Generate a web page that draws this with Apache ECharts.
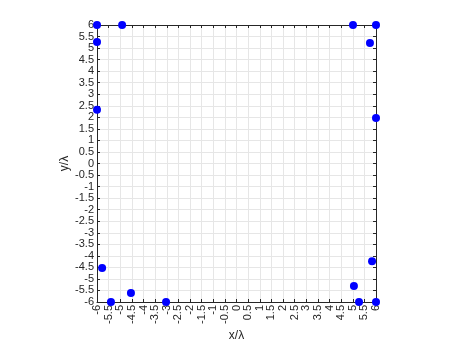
<!DOCTYPE html>
<html>
<head>
<meta charset="utf-8">
<script src="https://cdn.jsdelivr.net/npm/echarts@6/dist/echarts.min.js"></script>
<style>
html, body { margin: 0; padding: 0; background: #fff; }
#chart { width: 458px; height: 343px; }
</style>
</head>
<body>
<div id="chart"></div>
<script>
// element positions in wavelengths
const xPos = [-6, -4.92, -6, -6, -5.78, -5.4, -4.54, -3.03, 5.01, 6, 5.74, 6, 5.83, 5.05, 5.27, 6];
const yPos = [6, 6, 5.26, 2.33, -4.53, -6, -5.61, -6, 6, 6, 5.22, 1.97, -4.23, -5.31, -6, -6];

const axisColor = '#262626';
const gridColor = '#e6e6e6';
const fontFamily = 'Liberation Sans, Arial, sans-serif';

let points = xPos.map(function (x, i) {
    return [x, yPos[i]];
});

function tickLabel(value) {
    return String(value);
}

function mainAxis(name, rotate, gap) {
    return {
        type: 'value',
        min: -6,
        max: 6,
        interval: 0.5,
        name: name,
        nameLocation: 'middle',
        nameGap: gap,
        nameMoveOverlap: false,
        nameTextStyle: { color: axisColor, fontSize: 12, fontFamily: fontFamily },
        axisLine: { show: true, onZero: false, lineStyle: { color: axisColor, width: 1 } },
        axisTick: { show: true, inside: true, length: 3, lineStyle: { color: axisColor } },
        axisLabel: {
            color: axisColor,
            fontSize: 11,
            fontFamily: fontFamily,
            margin: 3,
            rotate: rotate,
            formatter: tickLabel,
            showMinLabel: true,
            showMaxLabel: true,
            hideOverlap: false,
            interval: 0
        },
        splitLine: { show: true, lineStyle: { color: gridColor, width: 1 } }
    };
}

function boxAxis(position) {
    return {
        type: 'value',
        min: -6,
        max: 6,
        interval: 0.5,
        position: position,
        axisLine: { show: true, onZero: false, lineStyle: { color: axisColor, width: 1 } },
        axisTick: { show: true, inside: true, length: 3, lineStyle: { color: axisColor } },
        axisLabel: { show: false },
        splitLine: { show: false }
    };
}

let xMain = mainAxis('x/λ', 90, 28);
let yMain = mainAxis('y/λ', 0, 26);
let xTop = boxAxis('top');
let yRight = boxAxis('right');

echarts.init(document.getElementById('chart')).setOption({
    animation: false,
    grid: { left: 97, right: 82, top: 25, bottom: 41, containLabel: false, outerBoundsMode: 'none' },
    xAxis: [xMain, xTop],
    yAxis: [yMain, yRight],
    series: [
        {
            type: 'scatter',
            data: points,
            symbol: 'circle',
            symbolSize: 8,
            clip: false,
            itemStyle: { color: '#0000ff', opacity: 1 }
        }
    ]
});
</script>
</body>
</html>
